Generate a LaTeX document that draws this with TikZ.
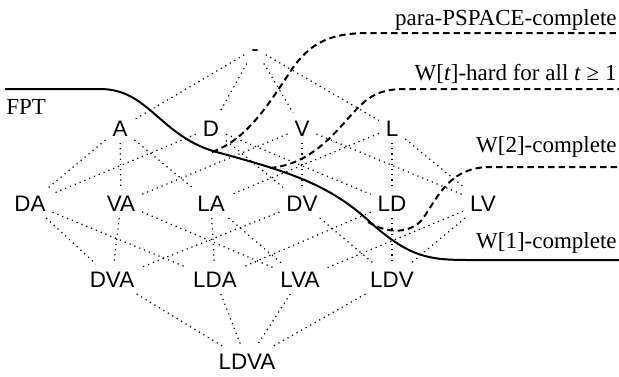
\documentclass[tikz,border=0pt]{standalone}
\usepackage{fontspec}
\setmainfont{Liberation Serif}
\newfontfamily\vertexfont{Liberation Sans}

\begin{document}
\begin{tikzpicture}[x=0.5pt, y=-0.5pt,
    vertex/.style={font=\vertexfont\fontsize{11.2}{13}\selectfont, text height=8pt, text depth=0pt, inner sep=3.3pt},
    classtext/.style={font=\fontsize{11.5}{13}\selectfont, inner sep=0pt},
    order/.style={line width=0.6pt, dotted},
    easyline/.style={line width=1pt},
    hardline/.style={line width=1pt, dash pattern=on 3.2pt off 2pt}]

        % Рамка
        \useasboundingbox (0,0) rectangle (619,376);

        % Вершины решётки
        \foreach \name/\txt/\x/\y in {
            top/-/255/48.5,
            A/A/120/128, D/D/211/128, V/V/302/128, L/L/392/128,
            DA/DA/30/203, VA/VA/121/203, LA/LA/211/203,
            DV/DV/302/203, LD/LD/392/203, LV/LV/483/203,
            DVA/DVA/112/279, LDA/LDA/215/279, LVA/LVA/300/279, LDV/LDV/392/279,
            LDVA/LDVA/247/361}
        {
            \node[vertex] (\name) at (\x,\y) {\txt};
        }

        % Рёбра
        \foreach \a/\b in {
            top/A, top/D, top/V, top/L,
            A/DA, A/VA, A/LA, D/DA, D/DV, D/LD,
            V/VA, V/DV, V/LV, L/LA, L/LD, L/LV,
            DA/DVA, DA/LDA, VA/DVA, VA/LVA, LA/LDA, LA/LVA,
            DV/DVA, DV/LDV, LD/LDA, LD/LDV, LV/LVA, LV/LDV,
            DVA/LDVA, LDA/LDVA, LVA/LDVA, LDV/LDVA}
        {
            \draw[order] (\a) -- (\b);
        }

        % Подписи классов
        \node[classtext, anchor=base east] (pspace) at (617,25) {para-PSPACE-complete};
        \node[classtext, anchor=base east] (wt) at (617,80) {W[\textit{t}]-hard for all \textit{t} ≥ 1};
        \node[classtext, anchor=base east] (wtwo) at (617,152) {W[2]-complete};
        \node[classtext, anchor=base east] (wone) at (617,248) {W[1]-complete};
        \node[classtext, anchor=base west] (fpt) at (6,114) {FPT};

        % Граница FPT
        \draw[easyline] (5,89) -- (100,89)
            .. controls (150,89) and (160,138) .. (220,153)
            .. controls (290,172) and (330,185) .. (370,222)
            .. controls (410,258) and (430,260) .. (470,260) -- (619,260);

        % Границы трудных классов
        \draw[hardline] (212,152)
            .. controls (245,140) and (265,110) .. (290,72)
            .. controls (310,42) and (330,33) .. (370,33) -- (619,33);
        \draw[hardline] (270,168)
            .. controls (300,165) and (320,150) .. (345,122)
            .. controls (365,99) and (375,89) .. (405,89) -- (619,89);
        \draw[hardline] (368,222)
            .. controls (385,232) and (405,235) .. (420,222)
            .. controls (435,205) and (445,167) .. (490,167) -- (619,167);
    \end{tikzpicture}
\end{document}
